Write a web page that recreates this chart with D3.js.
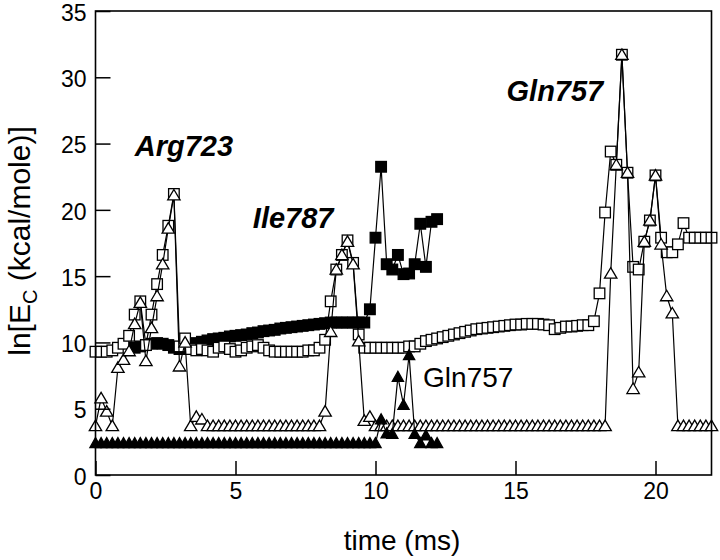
<!DOCTYPE html>
<html>
<head>
<meta charset="utf-8">
<script src="https://cdn.jsdelivr.net/npm/d3@7"></script>
<style>
body { margin: 0; background: #fff; }
svg { display: block; font-family: "Liberation Sans", Arial, Helvetica, sans-serif; }
</style>
</head>
<body>
<svg id="chart"></svg>
<script>
// time (ms), one sample every 0.2 ms
var time = [
  0, 0.2, 0.4, 0.6, 0.8, 1, 1.2, 1.4, 1.6, 1.8,
  2, 2.2, 2.4, 2.6, 2.8, 3, 3.2, 3.4, 3.6, 3.8,
  4, 4.2, 4.4, 4.6, 4.8, 5, 5.2, 5.4, 5.6, 5.8,
  6, 6.2, 6.4, 6.6, 6.8, 7, 7.2, 7.4, 7.6, 7.8,
  8, 8.2, 8.4, 8.6, 8.8, 9, 9.2, 9.4, 9.6, 9.8,
  10, 10.2, 10.4, 10.6, 10.8, 11, 11.2, 11.4, 11.6, 11.8,
  12, 12.2, 12.4, 12.6, 12.8, 13, 13.2, 13.4, 13.6, 13.8,
  14, 14.2, 14.4, 14.6, 14.8, 15, 15.2, 15.4, 15.6, 15.8,
  16, 16.2, 16.4, 16.6, 16.8, 17, 17.2, 17.4, 17.6, 17.8,
  18, 18.2, 18.4, 18.6, 18.8, 19, 19.2, 19.4, 19.6, 19.8,
  20, 20.2, 20.4, 20.6, 20.8, 21, 21.2, 21.4, 21.6, 21.8,
  22
];

// open squares
var sqOpen = [
  9.3, 9.3, 9.3, 9.4, 9.6, 9.9, 10.5, 12.1, 13.1, 9.8,
  12.1, 14.4, 16.6, 18.8, 21.2, 9.7, 10.3, 9.5, 9.4, 9.5,
  9.4, 9.3, 9.6, 9.7, 9.5, 9.3, 9.4, 9.6, 9.7, 9.8,
  9.6, 9.4, 9.3, 9.3, 9.3, 9.3, 9.3, 9.3, 9.4, 9.4,
  9.6, 10.2, 13.1, 15.5, 16.6, 17.7, 16.0, 10.6, 9.6, 9.6,
  9.6, 9.6, 9.6, 9.6, 9.6, 9.6, 9.7, 9.7, 9.9, 10.1,
  10.2, 10.3, 10.4, 10.5, 10.6, 10.7, 10.8, 10.9, 11.0, 11.05,
  11.1, 11.15, 11.2, 11.25, 11.3, 11.35, 11.35, 11.4, 11.4, 11.4,
  11.35, 11.3, 11.0, 11.1, 11.2, 11.2, 11.25, 11.3, 11.3, 11.6,
  13.7, 19.8, 24.4, 23.4, 31.7, 22.8, 15.7, 15.5, 17.6, 19.2,
  22.6, 17.9, 16.8, 16.8, 17.4, 19.0, 17.9, 17.9, 17.9, 17.9,
  17.9
];

// open triangles
var triOpen = [
  3.7, 5.8, 4.8, 3.7, 8.1, 8.7, 9.35, 11.4, 13.0, 8.6,
  11.1, 13.5, 15.9, 18.6, 21.1, 8.2, 10.0, 3.7, 4.4, 4.2,
  3.7, 3.7, 3.7, 3.7, 3.7, 3.7, 3.7, 3.7, 3.7, 3.7,
  3.7, 3.7, 3.7, 3.7, 3.7, 3.7, 3.7, 3.7, 3.7, 3.7,
  3.7, 4.8, 10.8, 15.5, 16.6, 17.6, 15.9, 10.1, 4.1, 4.4,
  3.7, 3.7, 3.7, 3.7, 3.7, 3.7, 3.7, 3.7, 3.7, 3.7,
  3.7, 3.7, 3.7, 3.7, 3.7, 3.7, 3.7, 3.7, 3.7, 3.7,
  3.7, 3.7, 3.7, 3.7, 3.7, 3.7, 3.7, 3.7, 3.7, 3.7,
  3.7, 3.7, 3.7, 3.7, 3.7, 3.7, 3.7, 3.7, 3.7, 3.7,
  3.7, 3.7, 15.2, 23.4, 31.7, 22.8, 6.5, 7.75, 17.6, 19.2,
  22.6, 17.4, 13.5, 12.2, 3.7, 3.7, 3.7, 3.7, 3.7, 3.7,
  3.7
];

// filled squares (Ile787 run)
var sqFilled = [
  null, null, null, null, null, null, null, 9.6, 9.7, 9.8,
  9.9, 9.95, 9.9, 9.8, 9.6, 9.5, 9.6, 9.8, 9.95, 10.05,
  10.15, 10.25, 10.3, 10.35, 10.45, 10.5, 10.55, 10.6, 10.7, 10.75,
  10.85, 10.9, 10.95, 11.05, 11.1, 11.15, 11.2, 11.25, 11.3, 11.35,
  11.4, 11.45, 11.5, 11.5, 11.5, 11.5, 11.5, 11.5, 11.5, 12.5,
  17.9, 23.25, 15.9, 15.5, 16.6, 15.15, 15.2, 15.9, 18.95, 15.7,
  19.1, 19.3
];

// filled triangles (Gln757 run)
var triFilled = [
  2.4, 2.4, 2.4, 2.4, 2.4, 2.4, 2.4, 2.4, 2.4, 2.4,
  2.4, 2.4, 2.4, 2.4, 2.4, 2.4, 2.4, 2.4, 2.4, 2.4,
  2.4, 2.4, 2.4, 2.4, 2.4, 2.4, 2.4, 2.4, 2.4, 2.4,
  2.4, 2.4, 2.4, 2.4, 2.4, 2.4, 2.4, 2.4, 2.4, 2.4,
  2.4, 2.4, 2.4, 2.4, 2.4, 2.4, 2.4, 2.4, 2.4, 2.4,
  2.4, 4.2, 3.15, 3.1, 7.4, 5.3, 9.05, 3.1, 2.4, 3.0,
  2.4, 2.4
];

var xTicks = [0, 5, 10, 15, 20];
var yTicks = [0, 5, 10, 15, 20, 25, 30, 35];

var labels = [
  {text: "Arg723", t: 1.4, v: 24.1, bold: true},
  {text: "Ile787", t: 5.62, v: 18.6, bold: true},
  {text: "Gln757", t: 14.68, v: 28.2, bold: true},
  {text: "Gln757", t: 11.7, v: 6.65, bold: false}
];

//canvas info
var width = 720;
var height = 560;

var svg = d3.select("#chart")
  .attr("width", width)
  .attr("height", height);

var x = d3.scaleLinear().domain([0, 22]).range([95.5, 711.5]);
var y = d3.scaleLinear().domain([0, 35]).range([475, 11]);

function pts(vals) {
  var out = [];
  for (var i = 0; i < vals.length; i++) {
    out.push({t: time[i], v: vals[i]});
  }
  return out;
}

var line = d3.line()
  .defined(function(d) { return d.v != null; })
  .x(function(d) { return x(d.t); })
  .y(function(d) { return y(d.v); });

var triPath = "M0,-5.8L6.2,4.7L-6.2,4.7Z";
var triPathSmall = "M0,-5.5L5.6,4.5L-5.6,4.5Z";

function drawSeries(vals, shape, filled) {
  var d = pts(vals).filter(function(p) { return p.v != null; });
  var g = svg.append("g");
  g.append("path")
    .attr("d", line(pts(vals)))
    .attr("fill", "none")
    .attr("stroke", "#000")
    .attr("stroke-width", 1.2);
  if (shape == "square") {
    g.selectAll("rect").data(d).enter().append("rect")
      .attr("x", function(p) { return x(p.t) - 5.3; })
      .attr("y", function(p) { return y(p.v) - 5.3; })
      .attr("width", 10.6)
      .attr("height", 10.6)
      .attr("fill", filled ? "#000" : "#fff")
      .attr("stroke", "#000")
      .attr("stroke-width", 1.3);
  } else {
    g.selectAll("path.m").data(d).enter().append("path")
      .attr("class", "m")
      .attr("d", filled ? triPathSmall : triPath)
      .attr("transform", function(p) { return "translate(" + x(p.t) + "," + y(p.v) + ")"; })
      .attr("fill", filled ? "#000" : "#fff")
      .attr("stroke", "#000")
      .attr("stroke-width", 1.3);
  }
}

drawSeries(sqFilled, "square", true);
drawSeries(sqOpen, "square", false);
drawSeries(triOpen, "triangle", false);
drawSeries(triFilled, "triangle", true);

// axes (ticks point inward)
svg.append("g")
  .attr("transform", "translate(0," + y(0) + ")")
  .call(d3.axisBottom(x).tickValues(xTicks).tickSize(-14).tickPadding(8).tickFormat(d3.format("d")));

svg.append("g")
  .attr("class", "yaxis")
  .attr("transform", "translate(" + x(0) + ",0)")
  .call(d3.axisLeft(y).tickValues(yTicks).tickSize(-15).tickPadding(9).tickFormat(d3.format("d")));

svg.selectAll(".domain").remove();
svg.selectAll(".tick line").attr("stroke", "#000").attr("stroke-width", 1.5);
svg.selectAll(".tick text")
  .attr("fill", "#000")
  .style("font-size", "23px")
  .style("font-family", "'Liberation Sans', Arial, Helvetica, sans-serif");
svg.selectAll(".yaxis .tick text").attr("dy", "0.4em");

// frame
svg.append("rect")
  .attr("x", x(0))
  .attr("y", y(35))
  .attr("width", x(22) - x(0))
  .attr("height", y(0) - y(35))
  .attr("fill", "none")
  .attr("stroke", "#000")
  .attr("stroke-width", 1.6);

// axis titles
svg.append("text")
  .attr("x", 402)
  .attr("y", 550)
  .attr("text-anchor", "middle")
  .style("font-size", "28px")
  .text("time (ms)");

var yt = svg.append("text")
  .attr("transform", "translate(30,241) rotate(-90)")
  .attr("text-anchor", "middle")
  .style("font-size", "30px");
yt.append("tspan").text("ln[E");
yt.append("tspan").attr("dy", 7).style("font-size", "20px").text("C");
yt.append("tspan").attr("dy", -7).text(" (kcal/mole)]");

// residue labels
svg.selectAll("text.lab").data(labels).enter().append("text")
  .attr("class", "lab")
  .attr("x", function(d) { return x(d.t); })
  .attr("y", function(d) { return y(d.v); })
  .style("font-size", function(d) { return d.bold ? "29px" : "28px"; })
  .style("font-weight", function(d) { return d.bold ? "bold" : "normal"; })
  .style("font-style", function(d) { return d.bold ? "italic" : "normal"; })
  .text(function(d) { return d.text; });
</script>
</body>
</html>
